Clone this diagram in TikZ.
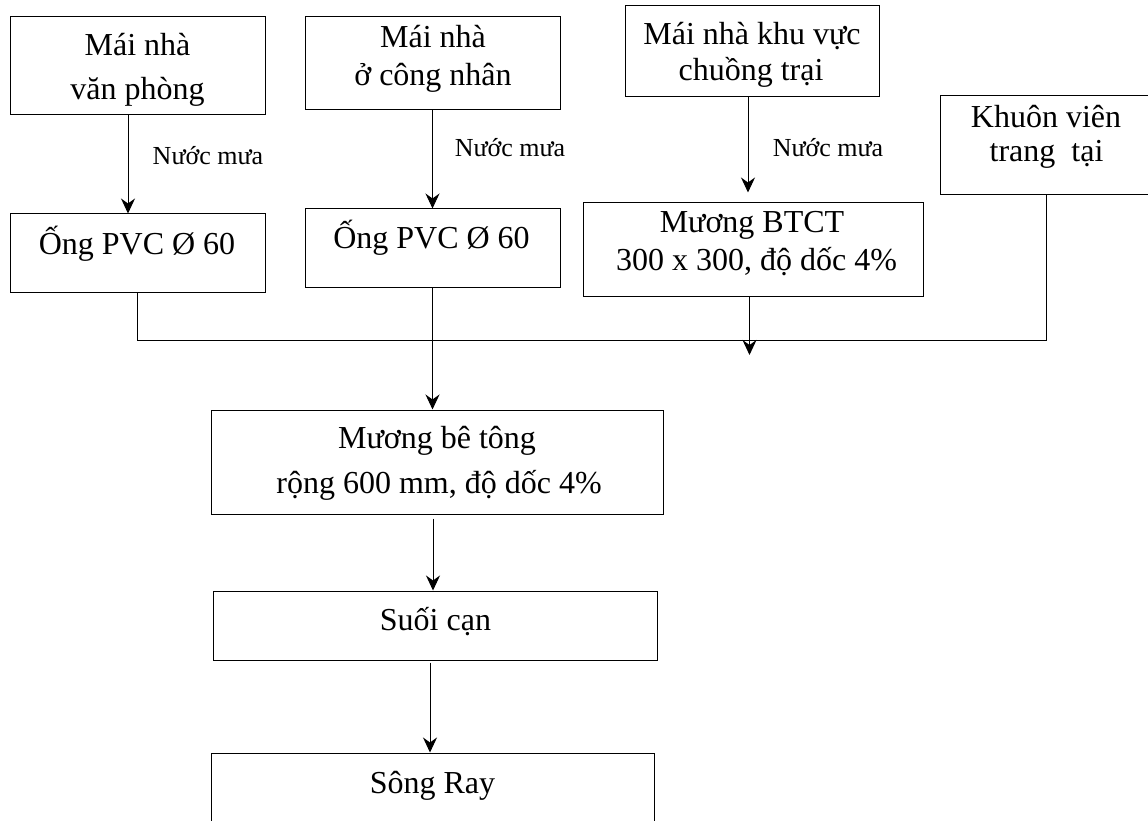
\documentclass[tikz,border=0pt]{standalone}
\usepackage{fontspec}
\setmainfont{Liberation Serif}
\usetikzlibrary{arrows.meta}
\begin{document}
\begin{tikzpicture}[x=1pt,y=-1pt,
  box/.style={draw=black, line width=1pt, rectangle, inner sep=0pt},
  txt/.style={anchor=base, inner sep=0pt, font=\fontsize{32}{38}\selectfont},
  lbl/.style={anchor=base, inner sep=0pt, font=\fontsize{26}{30}\selectfont},
  link/.style={draw=black, line width=1pt},
  arr/.style={link, -{Stealth[length=15pt,width=14pt,inset=5pt]}}]
\useasboundingbox (0,0) rectangle (1148,821);
\clip (0,0) rectangle (1148,821);

% source boxes
\node[box, minimum width=255pt, minimum height=98pt] (b1) at (137.5,66) {};
\node[box, minimum width=255pt, minimum height=93pt] (b2) at (432.5,63.5) {};
\node[box, minimum width=254pt, minimum height=91pt] (b3) at (752,51.5) {};
\node[box, minimum width=212pt, minimum height=99pt] (k) at (1046,145.5) {};

% first-stage channels
\node[box, minimum width=255pt, minimum height=78pt] (p1) at (137.5,253) {};
\node[box, minimum width=255pt, minimum height=78pt] (p2) at (432.5,248) {};
\node[box, minimum width=340pt, minimum height=93pt] (m1) at (753,249.5) {};

% main line
\node[box, minimum width=452pt, minimum height=104pt] (mb) at (437,462) {};
\node[box, minimum width=444pt, minimum height=69pt] (s) at (435,625.5) {};
\node[box, minimum width=443pt, minimum height=87pt] (r) at (432.5,796.5) {};

% box texts
\node[txt] (t1a) at (137.5,56) {Mái nhà};
\node[txt] (t1b) at (137.5,100) {văn phòng};
\node[txt] (t2a) at (433,48) {Mái nhà};
\node[txt] (t2b) at (433,86) {ở công nhân};
\node[txt] (t3a) at (752,45) {Mái nhà khu vực};
\node[txt] (t3b) at (751,81) {chuồng trại};
\node[txt] (tka) at (1046,128) {Khuôn viên};
\node[txt] (tkb) at (1046.5,162) {trang\ \ tại};
\node[txt] (tp1) at (137,254) {Ống PVC Ø 60};
\node[txt] (tp2) at (431.5,248) {Ống PVC Ø 60};
\node[txt] (tm1a) at (752,233) {Mương BTCT};
\node[txt] (tm1b) at (756.5,270) {300 x 300, độ dốc 4\%};
\node[txt] (tmba) at (437,448) {Mương bê tông};
\node[txt] (tmbb) at (439,493) {rộng 600 mm, độ dốc 4\%};
\node[txt] (ts) at (435.5,630) {Suối cạn};
\node[txt] (tr) at (432.5,793) {Sông Ray};

% rainwater labels
\node[lbl] (l1) at (208,165) {Nước mưa};
\node[lbl] (l2) at (510,157) {Nước mưa};
\node[lbl] (l3) at (828,157) {Nước mưa};

% roof to channel
\draw[arr] ([xshift=-9.5pt]b1.south) -- ([xshift=-9.5pt]b1.south |- p1.north);
\draw[arr] (b2.south) -- (p2.north);
\draw[arr] ([xshift=-4pt]b3.south) -- ([xshift=-4pt,yshift=10pt]b3.south |- m1.north);

% collecting line
\coordinate (bus) at (0,340);
\coordinate (busTip) at (0,355);
\draw[link] (k.south) |- (p1.south |- bus) -- (p1.south);
\draw[arr] ([xshift=-3.5pt]m1.south) -- ([xshift=-3.5pt]m1.south |- busTip);
\draw[arr] (p2.south) -- (p2.south |- mb.north);

% downstream
\draw[arr, shorten <=4pt] ([xshift=-4pt]mb.south) -- ([xshift=-4pt]mb.south |- s.north);
\draw[arr, shorten <=2pt] ([xshift=-5pt]s.south) -- ([xshift=-5pt]s.south |- r.north);
\end{tikzpicture}
\end{document}
